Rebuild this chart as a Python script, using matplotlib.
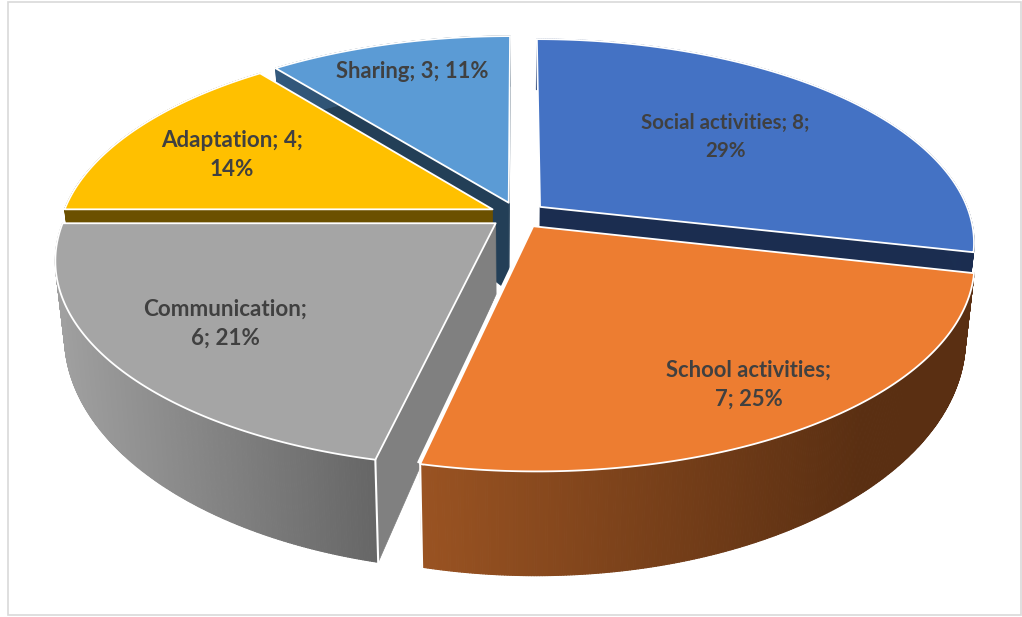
import numpy as np
import matplotlib
matplotlib.use("Agg")
import matplotlib.pyplot as plt
import matplotlib.colors as mcolors
from matplotlib.collections import PolyCollection
from matplotlib.patches import Polygon, Rectangle

plt.rcParams["font.family"] = ["Lato", "DejaVu Sans"]

CATEGORIES = ["Social activities", "School activities", "Communication", "Adaptation", "Sharing"]
VALUES = [8, 7, 6, 4, 3]
LABELS = [
    "Social activities; 8;\n29%",
    "School activities;\n7; 25%",
    "Communication;\n6; 21%",
    "Adaptation; 4;\n14%",
    "Sharing; 3; 11%",
]
LABEL_XY = [(725, 137), (749, 385), (225, 324), (232, 155), (412, 72)]
LABEL_SIZES = [14.8, 15.8, 16.1, 16.1, 15.8]

TOP_COLORS = ["#4472C4", "#ED7D31", "#A5A5A5", "#FFC000", "#5B9BD5"]
CUT_COLORS = ["#1B2D50", "#8F4E20", "#808080", "#6B5000", "#233F57"]
WALL_LEFT = ["#2A4578", "#9A5322", "#A0A0A0", "#6B5000", "#33597D"]
WALL_RIGHT = ["#1B2D50", "#5A2F12", "#666666", "#6B5000", "#233F57"]

# which ends of each slice show a cut face (0 first edge, -1 last edge)
CUT_ENDS = [[-1], [], [0], [0], [0, -1]]
# sharing's inner corner runs further down the gap than the others
APEX_EXTRA = [0, 0, 0, 0, 20]

# projection of the tilted disc, in pixels of the 1022x617 canvas
CX, CY = 518, 215
RX, RY = 430, 199
PERSP = 0.171
EXPLODE = 0.066
DEPTH = 70
SHRINK = 0.98


def project(u, v):
    s = 1.0 / (1.0 + PERSP * v)
    return CX + RX * u * s, CY - RY * v * s


def lower(x, y, v):
    s = 1.0 / (1.0 + PERSP * v)
    return CX + (x - CX) * SHRINK, y + DEPTH * s * s


def slice_geometry(t0, t1, extra):
    mid = (t0 + t1) / 2
    ou, ov = EXPLODE * np.sin(mid), EXPLODE * np.cos(mid)
    th = np.linspace(t0, t1, 300)
    u = ou + np.sin(th)
    v = ov + np.cos(th)
    x, y = project(u, v)
    xb, yb = lower(x, y, v)
    apex = project(ou, ov)
    apexb = lower(apex[0], apex[1], ov)
    apexb = (apexb[0], apexb[1] + extra)
    return dict(x=x, y=y, xb=xb, yb=yb, apex=apex, apexb=apexb)


fig = plt.figure(figsize=(10.22, 6.17), dpi=100)
ax = fig.add_axes([0, 0, 1, 1])
ax.set_xlim(0, 1022)
ax.set_ylim(617, 0)
ax.axis("off")

ax.add_patch(Rectangle((8, 2), 1013, 613, fill=False, ec="#D9D9D9", lw=1.2))

total = sum(VALUES)
edges = np.cumsum([0] + VALUES) / total * 2 * np.pi
geo = [slice_geometry(edges[i], edges[i + 1], APEX_EXTRA[i]) for i in range(len(VALUES))]

# far slices first, so the near ones cover them
for i in [4, 0, 3, 2, 1]:
    g = geo[i]
    for e in CUT_ENDS[i]:
        pts = [g["apex"], (g["x"][e], g["y"][e]), (g["xb"][e], g["yb"][e]), g["apexb"]]
        ax.add_patch(Polygon(pts, fc=CUT_COLORS[i], ec=CUT_COLORS[i], lw=0.5, zorder=2))

    # outer wall as strips so it can carry the horizontal shading
    polys, cols = [], []
    c0, c1 = np.array(mcolors.to_rgb(WALL_LEFT[i])), np.array(mcolors.to_rgb(WALL_RIGHT[i]))
    xmin, xmax = g["x"].min(), g["x"].max()
    for k in range(len(g["x"]) - 1):
        polys.append([(g["x"][k], g["y"][k]), (g["x"][k + 1], g["y"][k + 1]),
                      (g["xb"][k + 1], g["yb"][k + 1]), (g["xb"][k], g["yb"][k])])
        f = (g["x"][k] - xmin) / (xmax - xmin)
        f = min(1.0, f * 1.25) if i == 1 else f
        cols.append(tuple(c0 * (1 - f) + c1 * f))
    ax.add_collection(PolyCollection(polys, facecolors=cols, edgecolors=cols, linewidths=0.8, zorder=2))

    if i in (1, 2):
        e = -1 if i == 1 else 0
        ax.plot([g["x"][e], g["xb"][e]], [g["y"][e], g["yb"][e]], color="white", lw=1.5, zorder=2)
    if i == 1:
        # wide white seam along the school slice's left edge
        ax.plot([g["apex"][0], g["x"][-1]], [g["apex"][1], g["y"][-1]],
                color="white", lw=5, zorder=2, solid_capstyle="butt")

    top = [g["apex"]] + list(zip(g["x"], g["y"]))
    ax.add_patch(Polygon(top, fc=TOP_COLORS[i], ec="white", lw=1.3, joinstyle="round", zorder=2))

for text, (tx, ty), size in zip(LABELS, LABEL_XY, LABEL_SIZES):
    ax.text(tx, ty, text, ha="center", va="center", fontsize=size, fontweight="bold",
            color="#404040", linespacing=1.45, zorder=5)

fig.savefig("out.png", dpi=100)
